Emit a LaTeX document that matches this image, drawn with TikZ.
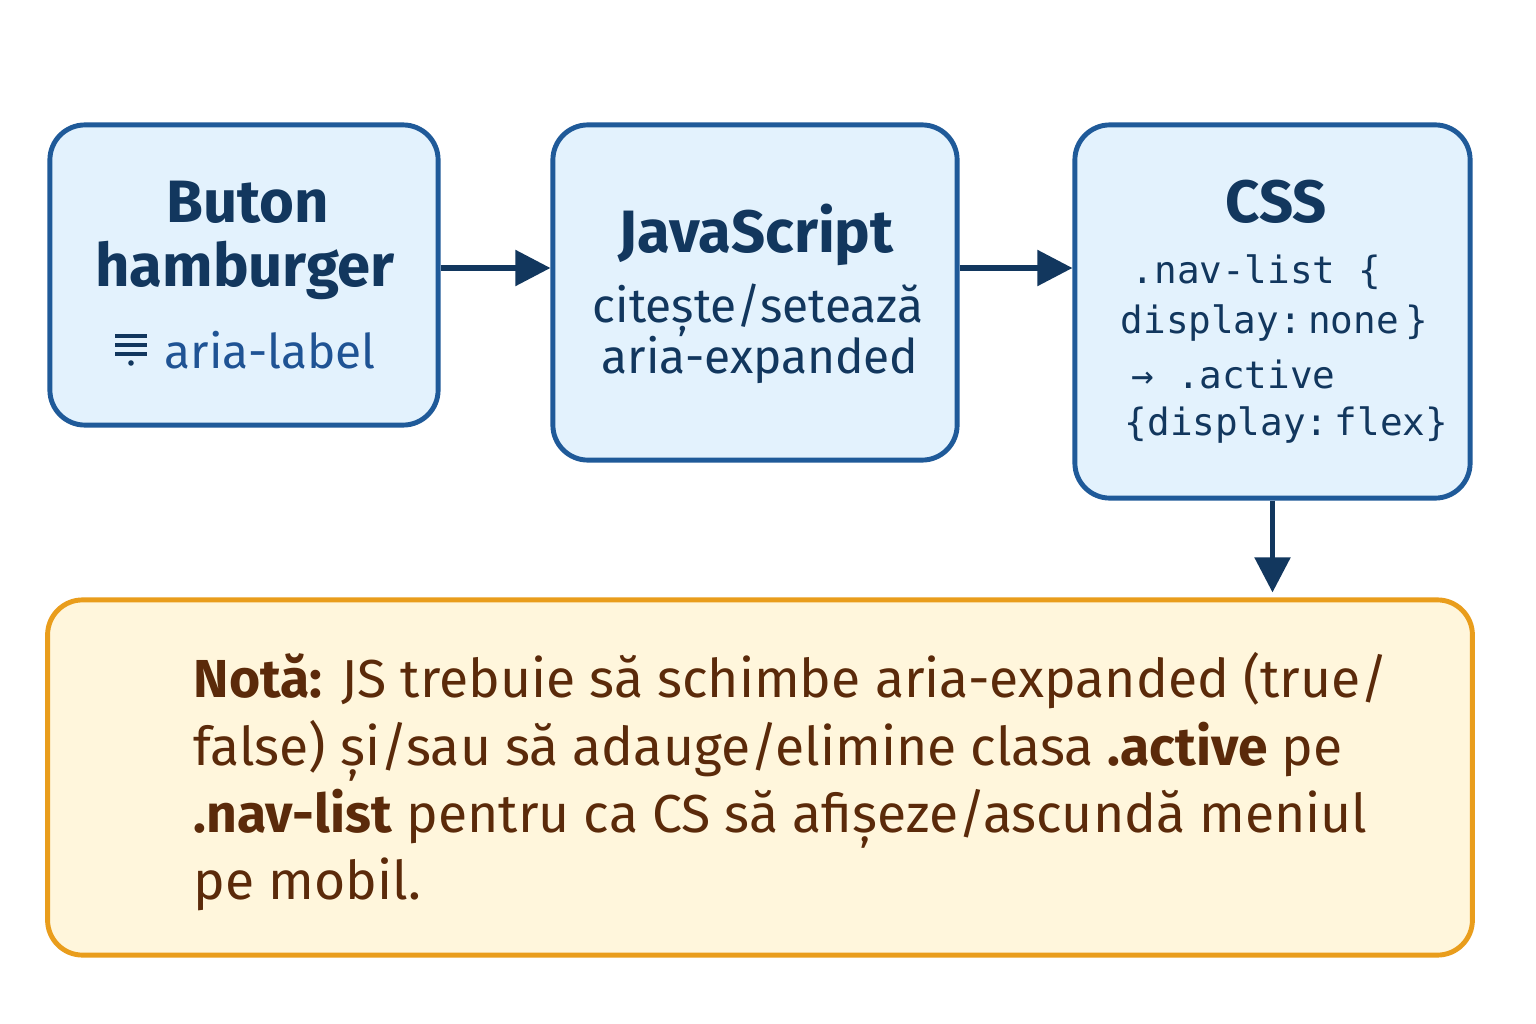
\documentclass[tikz,border=0pt]{standalone}
\usepackage{fontspec}
\setmainfont{Fira Sans}
\setmonofont{DejaVu Sans Mono}
\usetikzlibrary{arrows.meta}

\definecolor{boxblue}{HTML}{1F5A99}
\definecolor{boxfill}{HTML}{E3F2FD}
\definecolor{navy}{HTML}{12375E}
\definecolor{labelblue}{HTML}{1F5394}
\definecolor{noteline}{HTML}{E99D1C}
\definecolor{notefill}{HTML}{FFF6DC}
\definecolor{notetext}{HTML}{5B2A0A}

\tikzstyle{stepbox}=[
    draw=boxblue,
    fill=boxfill,
    line width=1.4pt,
    rounded corners=0.35cm,
  ]
\tikzstyle{notebox}=[
    draw=noteline,
    fill=notefill,
    line width=1.4pt,
    rounded corners=0.35cm,
  ]
\tikzstyle{title}=[
    text=navy,
    font=\fontsize{17}{20}\selectfont\bfseries,
  ]
\tikzstyle{body}=[
    text=navy,
    font=\fontsize{13.6}{16}\selectfont,
  ]
\tikzstyle{code}=[
    text=navy,
    anchor=west,
    inner sep=0pt,
    font=\fontsize{10.7}{12}\selectfont\ttfamily,
  ]
\tikzstyle{flow}=[
    -{Triangle[length=10pt,width=10pt]},
    draw=navy,
    line width=1.5pt,
  ]

\begin{document}
\begin{tikzpicture}[x=0.01cm,y=-0.01cm]
  \useasboundingbox[fill=white] (0,0) rectangle (1536,1024);

  % boxes
  \node[stepbox, minimum width=3.88cm, minimum height=3.00cm] (btn) at (244,275) {};
  \node[stepbox, minimum width=4.04cm, minimum height=3.35cm] (js) at (755,292.5) {};
  \node[stepbox, minimum width=3.95cm, minimum height=3.73cm] (css) at (1272.5,311.5) {};
  \node[notebox, minimum width=14.24cm, minimum height=3.55cm] (note) at (760,777.5) {};

  % button
  \node[title] (btnA) at (248,202) {Buton};
  \node[title] (btnB) at (245,270) {hamburger};
  \foreach \y in {336,345,354} {%
    \draw[navy, line width=1.3pt] (115,\y) -- (147,\y);
  }
  \fill[navy] (131,363) circle (2.8);
  \node[body, text=labelblue, anchor=west, inner sep=0pt] (lbl) at (164,350) {aria-label};

  % javascript
  \node[title] (jsA) at (756,235) {JavaScript};
  \node[body] (jsB) at (758,310) {citește/setează};
  \node[body] (jsC) at (760,360) {aria-expanded};

  % css
  \node[title] (cssA) at (1276,202) {CSS};
  \node[code] (c1) at (1131,272) {.nav-list \{};
  \node[code] (c2) at (1120,323) {display:\,none\,\}};
  \node[code] (c3) at (1131,374) {→ .active};
  \node[code] (c4) at (1124,425) {\{display:\,flex\}};

  % note
  \node[anchor=north west, inner sep=0pt, text=notetext, align=left,
        font=\fontsize{15.2}{19.1}\selectfont] (txt) at (193,652)
    {\textbf{Notă:} JS trebuie să schimbe aria-expanded (true/\\
     false) și/sau să adauge/elimine clasa \textbf{.active} pe\\
     \textbf{.nav-list} pentru ca CS să afișeze/ascundă meniul\\
     pe mobil.};

  % arrows
  \coordinate (row) at (0,268);
  \draw[flow] (btn.east |- row) -- (js.west |- row);
  \draw[flow] (js.east |- row) -- (css.west |- row);
  \draw[flow, shorten >=0.05cm] (css.south) -- (css.south |- note.north);
\end{tikzpicture}
\end{document}
